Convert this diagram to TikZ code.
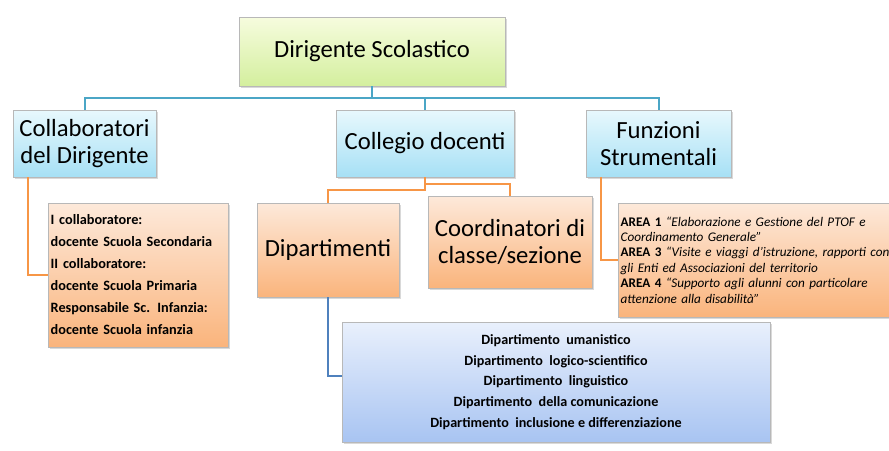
\documentclass[tikz,border=0pt]{standalone}
\usepackage{fontspec}
\setmainfont{Carlito}
\usetikzlibrary{shadows}

\definecolor{headtop}{RGB}{246,252,222}
\definecolor{headbot}{RGB}{212,239,158}
\definecolor{cyantop}{RGB}{232,248,253}
\definecolor{cyanbot}{RGB}{166,224,245}
\definecolor{peachtop}{RGB}{253,233,218}
\definecolor{peachbot}{RGB}{250,180,124}
\definecolor{depttop}{RGB}{233,240,252}
\definecolor{deptbot}{RGB}{168,196,242}
\definecolor{cyanln}{RGB}{75,166,198}
\definecolor{orangeln}{RGB}{247,150,70}
\definecolor{blueln}{RGB}{79,129,189}

\tikzset{every picture/.style={line width=0.75pt}}
\tikzset{
  box/.style={draw=black!28, line width=0.6pt, inner sep=2pt, align=center,
    drop shadow={opacity=0.3, shadow xshift=1.5pt, shadow yshift=-1.5pt}},
  headbox/.style={box, top color=headtop, bottom color=headbot, font=\fontsize{18.5}{21}\selectfont},
  cyanbox/.style={box, top color=cyantop, bottom color=cyanbot, font=\fontsize{18.5}{20}\selectfont},
  peachbox/.style={box, top color=peachtop, bottom color=peachbot, font=\fontsize{18.5}{20}\selectfont},
  notebox/.style={box, top color=peachtop, bottom color=peachbot, align=left},
  deptbox/.style={box, top color=depttop, bottom color=deptbot, font=\fontsize{10.6}{15.5}\selectfont\bfseries},
  cyanline/.style={draw=cyanln, line width=1.5pt},
  orangeline/.style={draw=orangeln, line width=1.5pt},
  blueline/.style={draw=blueln, line width=1.5pt},
}

\begin{document}
\begin{tikzpicture}[x=0.75pt,y=0.75pt,yscale=-1,xscale=1]
    \useasboundingbox (0,0) rectangle (889,450);

    %Shape: top level
    \node[headbox, minimum width=199.5pt, minimum height=51.75pt] (dir) at (372,51.5) {Dirigente Scolastico};

    %Shape: second level
    \node[cyanbox, minimum width=107.25pt, minimum height=50.25pt] (collab) at (84.5,143.5) {Collaboratori\\del Dirigente};
    \node[cyanbox, minimum width=133.5pt, minimum height=50.25pt] (coll) at (425,143.5) {Collegio docenti};
    \node[cyanbox, minimum width=108.75pt, minimum height=50.25pt] (funz) at (658.5,143.5) {Funzioni\\Strumentali};

    %Shape: under Collegio docenti
    \node[peachbox, minimum width=106.5pt, minimum height=70.5pt] (dip) at (328,250) {Dipartimenti};
    \node[peachbox, minimum width=123pt, minimum height=69pt] (coord) at (510,242) {Coordinatori di\\classe/sezione};

    %Shape: detail boxes
    \node[notebox, text width=131pt, minimum height=108pt, font=\fontsize{10.7}{16.5}\selectfont\bfseries] (collabtxt) at (138,275)
      {I collaboratore:\\docente Scuola Secondaria\\II collaboratore:\\docente Scuola Primaria\\Responsabile Sc. Infanzia:\\docente Scuola infanzia};
    \node[notebox, text width=212pt, minimum height=85.5pt, font=\fontsize{9.9}{11.6}\selectfont] (funztxt) at (762,260)
      {\textbf{AREA 1} \textit{``Elaborazione e Gestione del PTOF e}\\
       \textit{Coordinamento Generale''}\\
       \textbf{AREA 3} \textit{``Visite e viaggi d'istruzione, rapporti con}\\
       \textit{gli Enti ed Associazioni del territorio}\\
       \textbf{AREA 4} \textit{``Supporto agli alunni con particolare}\\
       \textit{attenzione alla disabilità''}};
    \node[deptbox, minimum width=321pt, minimum height=90pt] (depttxt) at (556,382)
      {Dipartimento\ \ umanistico\\Dipartimento\ \ logico-scientifico\\Dipartimento\ \ linguistico\\Dipartimento\ \ della comunicazione\\Dipartimento\ \ inclusione e differenziazione};

    %Straight Lines: from the head
    \coordinate (bus) at (372,98);
    \draw[cyanline] (dir.south) -- (bus);
    \draw[cyanline] (bus) -| (collab.north);
    \draw[cyanline] (bus) -| (coll.north);
    \draw[cyanline] (bus) -| (funz.north);

    %Straight Lines: orange branches
    \draw[orangeline] (coll.south) -- ++(0,7) -| (coord.north);
    \draw[orangeline] (coll.south) -- ++(0,13) -| (dip.north);
    \draw[orangeline] ([xshift=11.25pt]collab.south west) |- (collabtxt.west);
    \draw[orangeline] ([xshift=11.25pt]funz.south west) |- (funztxt.west);

    %Straight Lines: departments
    \draw[blueline] (dip.south) |- ([yshift=-4.5pt]depttxt.west);

\end{tikzpicture}
\end{document}
